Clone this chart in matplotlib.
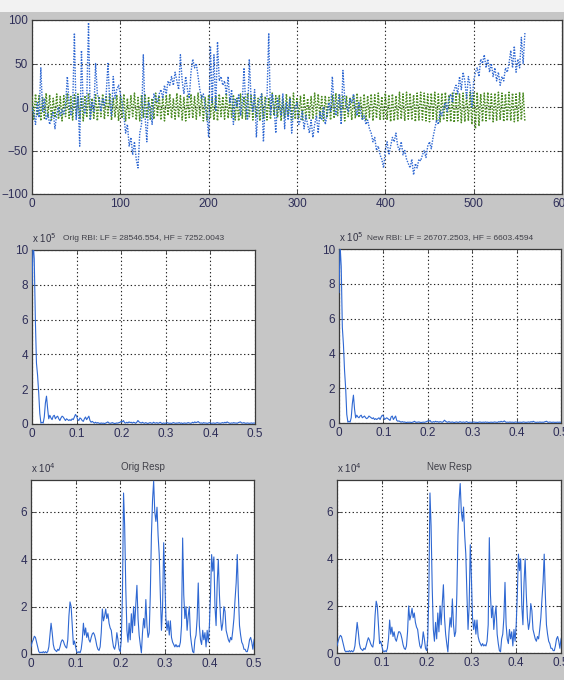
import numpy as np
import matplotlib
matplotlib.use("Agg")
import matplotlib.pyplot as plt
from matplotlib.patches import Rectangle

# ---- top panel: RR-interval traces (sample step 2) ----
rbi_orig = [
    0, -8, -20, 5, -12, 45, -5, 10, -15, -8,
    -20, -12, -5, -25, -8, 0, -10, -3, -8, 2,
    35, 5, -10, -2, 85, -15, 12, -45, 65, 0,
    -8, 10, 97, -15, 5, -5, 50, 15, 8, -5,
    10, 2, 15, 50, 5, -10, 35, 10, 20, 25,
    15, 5, -10, -30, -20, -45, -35, -55, -40, -60,
    -70, -30, -20, 60, -10, -40, 5, 0, -20, 15,
    10, 5, 15, 20, 10, 25, 15, 30, 25, 35,
    25, 40, 30, 20, 60, 30, 15, 35, 20, 10,
    40, 55, 45, 50, 35, 20, 10, 15, 0, -10,
    -35, 70, 5, 60, -5, 75, 30, 35, 25, 30,
    15, 35, 5, 20, -20, 10, 0, 15, -10, 5,
    45, 0, -15, 55, 10, -5, 20, -35, 0, 10,
    15, -40, 5, 10, 85, -10, 15, 0, -30, 10,
    0, -10, 15, -25, 5, -15, 10, -30, -5, 0,
    5, -20, -15, -5, -25, -10, -20, -30, -15, -35,
    -20, -10, -30, -5, -15, 0, -20, -10, 5, -5,
    35, 0, -10, 5, 15, -20, 42, 10, 0, -5,
    10, 5, 15, 0, -10, 5, -5, -15, -10, -20,
    -15, -25, -30, -40, -35, -50, -45, -55, -60, -70,
    -50, -40, -55, -45, -35, -40, -30, -45, -50, -40,
    -55, -50, -60, -65, -70, -60, -78, -65, -70, -60,
    -62, -55, -50, -58, -45, -40, -48, -35, -25, -15,
    -20, -5, -10, 0, 5, -5, 10, 15, 5, 20,
    25, 15, 35, 20, 40, 30, 10, 35, 25, 0,
    30, 40, 45, 35, 55, 50, 60, 45, 55, 40,
    50, 35, 45, 30, 40, 25, 35, 30, 45, 40,
    50, 65, 45, 70, 40, 55, 45, 80, 50, 85,
]

rbi_new = [
    12, -14, 15, -10, 13, -16, 11, -13, 16, -12,
    14, -15, 10, -12, 15, -14, 12, -16, 13, -11,
    16, -13, 12, -15, 14, -10, 15, -14, 11, -16,
    13, -12, 16, -15, 10, -13, 14, -16, 12, -11,
    15, -14, 13, -10, 16, -15, 11, -12, 14, -16,
    12, -13, 15, -16, 10, -14, 13, -11, 16, -15,
    11, -16, 14, -12, 15, -13, 12, -15, 10, -14,
    16, -11, 13, -15, 12, -16, 14, -10, 15, -13,
    10, -14, 16, -12, 13, -15, 11, -16, 14, -12,
    15, -13, 12, -14, 16, -10, 13, -16, 11, -15,
    14, -12, 10, -15, 13, -16, 15, -11, 12, -14,
    16, -13, 11, -12, 14, -15, 10, -16, 15, -13,
    12, -14, 16, -11, 13, -15, 14, -12, 10, -16,
    15, -13, 12, -15, 11, -14, 16, -10, 13, -12,
    14, -16, 10, -13, 15, -11, 12, -15, 16, -14,
    11, -12, 13, -16, 14, -15, 10, -13, 12, -14,
    16, -11, 15, -14, 12, -16, 13, -12, 11, -15,
    14, -13, 16, -10, 15, -14, 12, -16, 13, -11,
    10, -15, 14, -13, 16, -12, 11, -14, 15, -16,
    13, -12, 15, -16, 14, -13, 16, -15, 12, -14,
    16, -15, 14, -17, 15, -16, 13, -15, 17, -14,
    15, -16, 17, -14, 16, -15, 14, -17, 16, -15,
    17, -15, 16, -16, 15, -17, 16, -14, 17, -16,
    15, -17, 16, -15, 17, -16, 14, -17, 16, -18,
    17, -16, 15, -18, 16, -17, 14, -16, 17, -20,
    16, -25, 17, -22, 15, -17, 16, -16, 17, -15,
    15, -17, 16, -16, 17, -15, 16, -17, 15, -16,
    17, -16, 16, -17, 15, -16, 17, -15, 16, -17,
]

# ---- middle panels: RBI spectra (x 1e5), frequency step 0.0025 ----
psd_rbi_orig = [
    8.0, 10.5, 9.5, 6.0, 3.5, 2.8, 1.8, 0.6, 0.05, 0.1,
    0.05, 0.4, 1.2, 1.6, 0.9, 0.3, 0.5, 0.35, 0.25, 0.45,
    0.5, 0.3, 0.4, 0.45, 0.3, 0.2, 0.35, 0.45, 0.4, 0.3,
    0.2, 0.3, 0.25, 0.2, 0.25, 0.2, 0.3, 0.25, 0.4, 0.55,
    0.45, 0.25, 0.2, 0.35, 0.3, 0.2, 0.15, 0.3, 0.4, 0.25,
    0.35, 0.45, 0.2, 0.1, 0.15, 0.1, 0.05, 0.1, 0.05, 0.08,
    0.05, 0.03, 0.06, 0.04, 0.05, 0.03, 0.05, 0.08, 0.12, 0.06,
    0.04, 0.05, 0.08, 0.05, 0.03, 0.04, 0.06, 0.05, 0.08, 0.1,
    0.15, 0.12, 0.2, 0.08, 0.05, 0.1, 0.06, 0.12, 0.08, 0.1,
    0.05, 0.1, 0.08, 0.04, 0.1, 0.2, 0.12, 0.08, 0.05, 0.1,
    0.06, 0.04, 0.08, 0.05, 0.03, 0.06, 0.08, 0.05, 0.04, 0.1,
    0.06, 0.05, 0.08, 0.04, 0.06, 0.1, 0.05, 0.03, 0.06, 0.04,
    0.05, 0.08, 0.06, 0.04, 0.05, 0.03, 0.06, 0.08, 0.05, 0.04,
    0.06, 0.05, 0.08, 0.04, 0.06, 0.03, 0.05, 0.06, 0.04, 0.05,
    0.08, 0.06, 0.04, 0.05, 0.1, 0.06, 0.12, 0.08, 0.1, 0.14,
    0.08, 0.05, 0.06, 0.04, 0.08, 0.05, 0.06, 0.04, 0.05, 0.08,
    0.06, 0.04, 0.05, 0.06, 0.04, 0.05, 0.08, 0.06, 0.05, 0.04,
    0.06, 0.08, 0.05, 0.1, 0.06, 0.12, 0.08, 0.05, 0.04, 0.06,
    0.05, 0.08, 0.05, 0.06, 0.04, 0.08, 0.1, 0.12, 0.06, 0.05,
    0.08, 0.05, 0.04, 0.06, 0.05, 0.04, 0.05, 0.06, 0.04, 0.06,
    0.05,
]

psd_rbi_new = [
    7.5, 10.2, 9.0, 5.5, 4.5, 3.0, 2.0, 0.5, 0.05, 0.1,
    0.05, 0.3, 1.1, 1.6, 0.8, 0.3, 0.45, 0.35, 0.3, 0.4,
    0.45, 0.3, 0.35, 0.4, 0.3, 0.25, 0.3, 0.4, 0.35, 0.3,
    0.25, 0.3, 0.2, 0.25, 0.2, 0.25, 0.3, 0.2, 0.35, 0.45,
    0.4, 0.2, 0.25, 0.3, 0.25, 0.2, 0.15, 0.35, 0.4, 0.2,
    0.3, 0.4, 0.15, 0.1, 0.12, 0.08, 0.05, 0.08, 0.05, 0.06,
    0.04, 0.03, 0.05, 0.04, 0.05, 0.03, 0.04, 0.06, 0.1, 0.05,
    0.04, 0.05, 0.06, 0.04, 0.03, 0.04, 0.05, 0.04, 0.06, 0.08,
    0.12, 0.1, 0.15, 0.06, 0.04, 0.08, 0.05, 0.1, 0.06, 0.08,
    0.04, 0.08, 0.06, 0.04, 0.08, 0.16, 0.1, 0.06, 0.04, 0.08,
    0.05, 0.04, 0.06, 0.04, 0.03, 0.05, 0.06, 0.04, 0.04, 0.08,
    0.05, 0.04, 0.06, 0.04, 0.05, 0.08, 0.04, 0.03, 0.05, 0.04,
    0.04, 0.06, 0.05, 0.04, 0.04, 0.03, 0.05, 0.06, 0.04, 0.04,
    0.05, 0.04, 0.06, 0.04, 0.05, 0.03, 0.04, 0.05, 0.04, 0.04,
    0.06, 0.05, 0.04, 0.04, 0.08, 0.05, 0.1, 0.06, 0.08, 0.12,
    0.06, 0.04, 0.05, 0.04, 0.06, 0.04, 0.05, 0.04, 0.04, 0.06,
    0.05, 0.04, 0.04, 0.05, 0.04, 0.04, 0.06, 0.05, 0.04, 0.04,
    0.05, 0.06, 0.04, 0.08, 0.05, 0.1, 0.06, 0.04, 0.04, 0.05,
    0.04, 0.06, 0.04, 0.05, 0.04, 0.06, 0.08, 0.1, 0.05, 0.04,
    0.06, 0.04, 0.04, 0.05, 0.04, 0.04, 0.04, 0.05, 0.04, 0.05,
    0.04,
]

# ---- bottom panels: respiration spectra (x 1e4), frequency step 0.0025 ----
psd_resp_orig = [
    0.3, 0.5, 0.6, 0.75, 0.7, 0.5, 0.3, 0.1, 0.05, 0.08,
    0.05, 0.1, 0.05, 0.1, 0.05, 0.1, 0.3, 0.8, 1.3, 0.9,
    0.4, 0.2, 0.15, 0.1, 0.2, 0.15, 0.3, 0.5, 0.6, 0.55,
    0.4, 0.3, 0.25, 0.6, 1.6, 2.2, 2.0, 1.2, 0.4, 0.55,
    0.3, 0.1, 0.05, 0.1, 0.05, 0.2, 0.6, 1.3, 0.8, 1.1,
    0.7, 0.9, 0.6, 0.5, 0.7, 0.85, 0.9, 0.8, 0.6, 0.35,
    0.2, 0.15, 0.3, 0.9, 1.9, 1.4, 1.6, 1.9, 1.5, 1.7,
    1.3, 1.1, 1.0, 0.6, 0.3, 0.2, 0.4, 0.9, 0.6, 0.2,
    0.1, 0.6, 2.5, 6.8, 5.4, 2.8, 1.0, 0.5, 1.3, 0.6,
    1.7, 0.9, 2.0, 1.2, 2.1, 2.9, 1.5, 0.8, 0.4, 0.05,
    0.9, 1.5, 1.1, 2.3, 1.2, 0.7, 0.9, 2.5, 5.0, 6.5,
    7.3, 6.0, 5.6, 6.2, 5.0, 4.2, 2.5, 1.0, 2.0, 4.7,
    3.2, 1.5, 1.0, 1.4, 0.8, 1.4, 0.7, 0.5, 0.4, 0.3,
    0.4, 0.3, 0.35, 0.3, 0.5, 1.2, 4.9, 2.5, 1.5, 2.0,
    1.0, 1.6, 2.0, 0.8, 0.4, 0.1, 0.05, 0.6, 0.8, 1.5,
    3.0, 1.2, 0.6, 0.4, 1.0, 0.6, 0.9, 0.3, 1.0, 0.5,
    1.2, 2.5, 4.2, 3.5, 4.1, 2.0, 1.2, 3.0, 4.0, 2.5,
    1.5, 1.0, 1.3, 2.0, 1.8, 1.0, 0.8, 0.6, 0.5, 0.7,
    0.6, 1.0, 1.5, 2.3, 3.0, 4.2, 2.5, 1.2, 0.8, 0.5,
    0.4, 0.2, 0.2, 0.1, 0.1, 0.3, 0.6, 0.7, 0.5, 0.2,
    0.6,
]

psd_resp_new = [
    0.3, 0.5, 0.65, 0.75, 0.7, 0.5, 0.3, 0.1, 0.05, 0.08,
    0.05, 0.1, 0.05, 0.1, 0.05, 0.1, 0.3, 0.8, 1.3, 0.9,
    0.4, 0.2, 0.15, 0.1, 0.2, 0.15, 0.3, 0.5, 0.65, 0.55,
    0.4, 0.3, 0.25, 0.6, 1.6, 2.2, 2.0, 1.2, 0.4, 0.5,
    0.3, 0.1, 0.05, 0.1, 0.05, 0.2, 0.6, 1.4, 0.8, 1.1,
    0.7, 0.9, 0.6, 0.5, 0.7, 0.9, 0.9, 0.8, 0.6, 0.35,
    0.2, 0.15, 0.3, 0.9, 2.0, 1.4, 1.6, 1.9, 1.5, 1.7,
    1.3, 1.1, 1.0, 0.6, 0.3, 0.2, 0.4, 0.9, 0.6, 0.2,
    0.1, 0.6, 2.5, 6.8, 5.4, 2.8, 1.0, 0.5, 1.3, 0.6,
    1.7, 0.9, 2.0, 1.2, 2.1, 2.9, 1.5, 0.8, 0.4, 0.05,
    0.9, 1.5, 1.1, 2.3, 1.2, 0.7, 0.9, 2.5, 5.0, 6.5,
    7.2, 6.0, 5.6, 6.2, 5.0, 4.2, 2.5, 1.0, 2.0, 4.6,
    3.2, 1.5, 1.0, 1.4, 0.8, 1.4, 0.7, 0.5, 0.4, 0.3,
    0.4, 0.3, 0.35, 0.3, 0.5, 1.2, 4.9, 2.5, 1.5, 2.0,
    1.0, 1.6, 2.0, 0.8, 0.4, 0.1, 0.05, 0.6, 0.8, 1.5,
    3.0, 1.2, 0.6, 0.4, 1.0, 0.6, 0.9, 0.3, 1.0, 0.5,
    1.2, 2.5, 4.2, 3.5, 4.0, 2.0, 1.2, 3.0, 4.0, 2.5,
    1.5, 1.0, 1.3, 2.1, 1.8, 1.0, 0.8, 0.6, 0.5, 0.7,
    0.6, 1.0, 1.5, 2.3, 3.0, 4.2, 2.5, 1.2, 0.8, 0.5,
    0.4, 0.2, 0.2, 0.1, 0.1, 0.3, 0.6, 0.7, 0.5, 0.2,
    0.6,
]

title_rbi_orig = "Orig RBI: LF = 28546.554, HF = 7252.0043"
title_rbi_new = "New RBI: LF = 26707.2503, HF = 6603.4594"
title_resp_orig = "Orig Resp"
title_resp_new = "New Resp"

# ---- styling ----
BG = "#c6c6c6"
TICK_COLOR = "#2e2e58"
BLUE = "#2f68d2"
GREEN = "#4a8a22"
plt.rcParams["font.family"] = ["Liberation Sans", "DejaVu Sans"]

fig = plt.figure(figsize=(5.64, 6.80), dpi=100, facecolor=BG)
fig.patches.append(Rectangle((0, 0.983), 1, 0.017, transform=fig.transFigure,
                             facecolor="#f2f2f2", edgecolor="none", zorder=0))

W, H = 564.0, 680.0


def add_axes(x0, y0, x1, y1):
    return fig.add_axes([x0 / W, 1 - y1 / H, (x1 - x0) / W, (y1 - y0) / H])


def style(ax):
    ax.set_facecolor("white")
    ax.grid(True, color="#222222", linestyle=(0, (1.2, 2.2)), linewidth=0.8)
    ax.set_axisbelow(True)
    ax.tick_params(direction="in", length=3, width=0.6, top=True, right=True,
                   labelsize=8.5, labelcolor=TICK_COLOR, pad=3, color="#333333")
    for s in ax.spines.values():
        s.set_color("#3a3a3a")
        s.set_linewidth(0.9)


# top panel
ax0 = add_axes(32, 20, 562, 194)
style(ax0)
t = np.arange(len(rbi_orig)) * 2
ax0.plot(t, rbi_new, color=GREEN, linestyle=(0, (1, 1)), linewidth=1.1, zorder=3)
ax0.plot(t, rbi_orig, color=BLUE, linestyle=(0, (1, 1)), linewidth=1.0, zorder=4)
ax0.set_xlim(0, 600)
ax0.set_ylim(-100, 100)
ax0.set_xticks([0, 100, 200, 300, 400, 500, 600])
ax0.set_yticks([-100, -50, 0, 50, 100])

f = np.arange(len(psd_rbi_orig)) * 0.0025

panels = [
    ((32, 250, 255, 424), psd_rbi_orig, title_rbi_orig, 5, (0, 10), [0, 2, 4, 6, 8, 10], 6.0),
    ((339, 249, 561, 423), psd_rbi_new, title_rbi_new, 5, (0, 10), [0, 2, 4, 6, 8, 10], 6.0),
    ((31, 480, 254, 654), psd_resp_orig, title_resp_orig, 4, (0, 7.35), [0, 2, 4, 6], 7.0),
    ((337, 480, 561, 653), psd_resp_new, title_resp_new, 4, (0, 7.35), [0, 2, 4, 6], 7.0),
]

for box, vals, title, expo, ylim, yt, tsize in panels:
    ax = add_axes(*box)
    style(ax)
    ax.plot(f, vals, color=BLUE, linewidth=0.8, zorder=3)
    ax.set_xlim(0, 0.5)
    ax.set_ylim(*ylim)
    ax.set_xticks([0, 0.1, 0.2, 0.3, 0.4, 0.5])
    ax.set_xticklabels(["0", "0.1", "0.2", "0.3", "0.4", "0.5"])
    ax.set_yticks(yt)
    ax.set_title(title, fontsize=tsize, color="#404048", pad=7)
    ax.text(0.0, 1.03, r"x 10$^{%d}$" % expo, transform=ax.transAxes,
            fontsize=7.0, color="#333344", ha="left", va="bottom")

fig.savefig("out.png", dpi=100, facecolor=BG)
